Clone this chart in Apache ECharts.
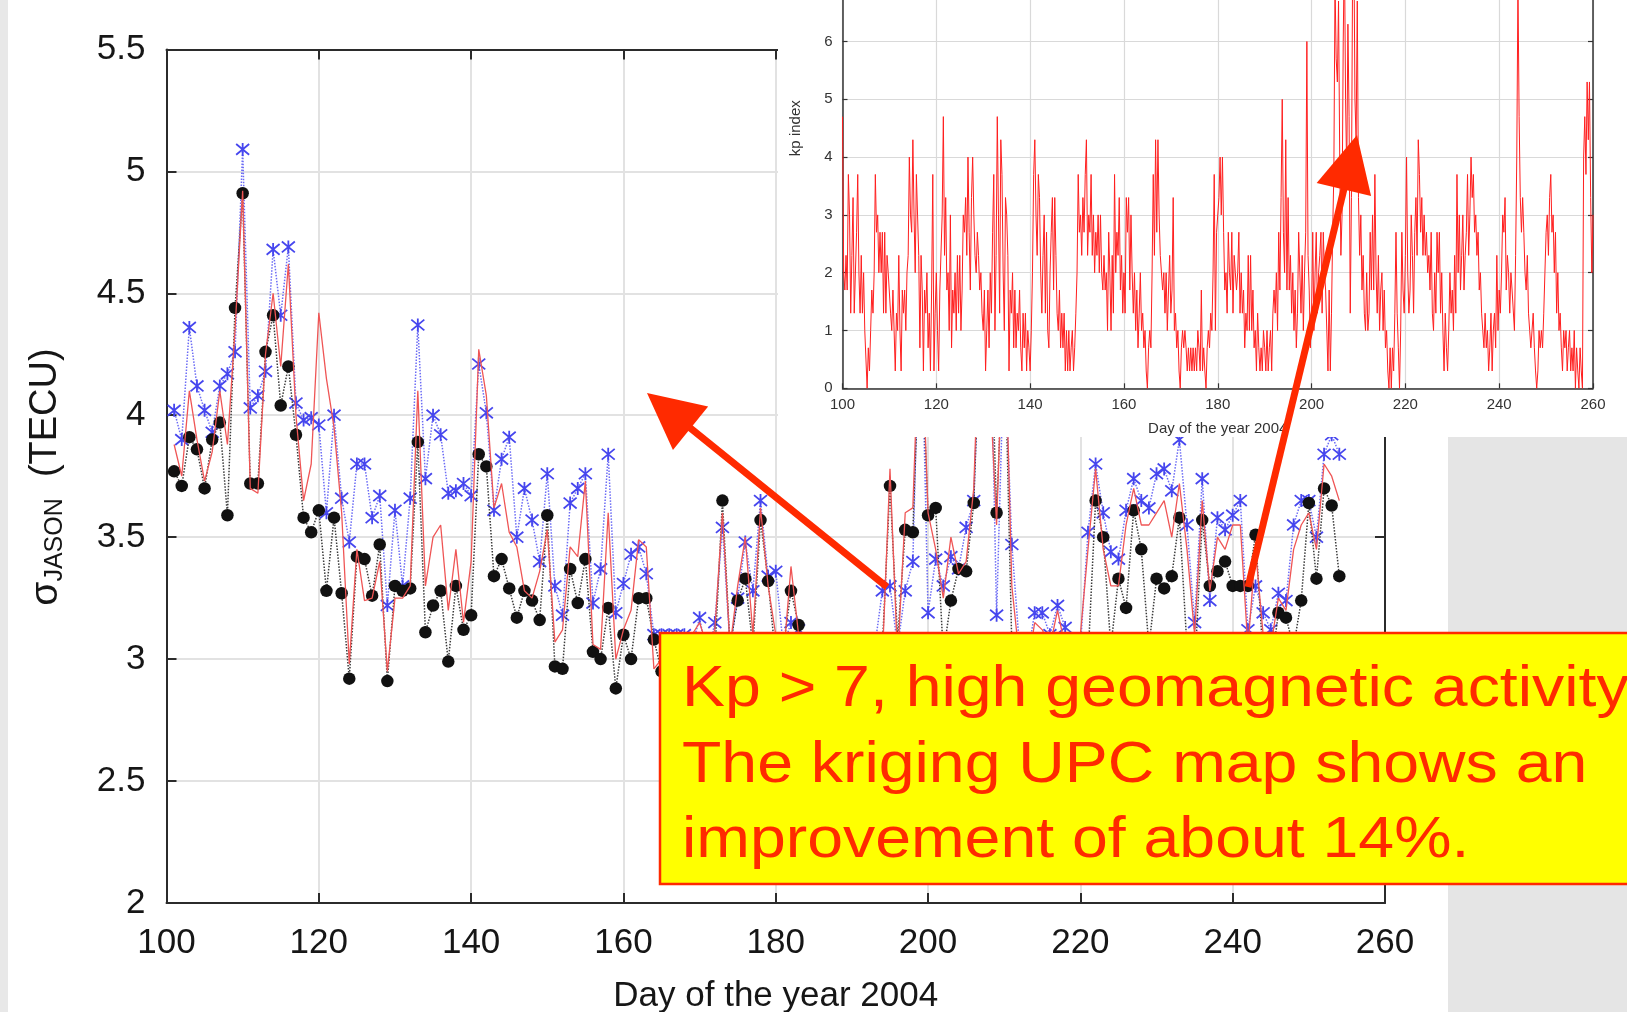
<!DOCTYPE html>
<html>
<head>
<meta charset="utf-8">
<title>σJASON and Kp index, 2004</title>
<script src="https://cdn.jsdelivr.net/npm/echarts@6/dist/echarts.min.js"></script>
<style>
  html, body { margin: 0; padding: 0; background: #ffffff; }
  #chart { width: 1627px; height: 1012px; }
</style>
</head>
<body>
<div id="chart"></div>
<script>
// ---- Daily sigma of the JASON TEC comparison (TECU), day 101 .. 254 ----
const firstDay = 101;

// black filled circles, dotted black line
const krigingSigma = [
  3.77, 3.71, 3.91, 3.86, 3.70, 3.90, 3.97, 3.59, 4.44, 4.91,
  3.72, 3.72, 4.26, 4.41, 4.04, 4.20, 3.92, 3.58, 3.52, 3.61,
  3.28, 3.58, 3.27, 2.92, 3.42, 3.41, 3.26, 3.47, 2.91, 3.30,
  3.28, 3.29, 3.89, 3.11, 3.22, 3.28, 2.99, 3.30, 3.12, 3.18,
  3.84, 3.79, 3.34, 3.41, 3.29, 3.17, 3.28, 3.24, 3.16, 3.59,
  2.97, 2.96, 3.37, 3.23, 3.41, 3.03, 3.00, 3.21, 2.88, 3.10,
  3.00, 3.25, 3.25, 3.08, 2.95, 2.90, 2.98, 3.05, 2.95, 3.00,
  2.90, 3.02, 3.65, 3.05, 3.24, 3.33, 3.05, 3.57, 3.32, 3.00,
  3.05, 3.28, 3.14, 2.95, 2.90, 3.00, 2.85, 2.95, 3.00, 2.90,
  2.95, 3.00, 2.90, 3.05, 3.71, 3.08, 3.53, 3.52, 4.40, 3.59,
  3.62, 3.02, 3.24, 3.37, 3.36, 3.64, 4.50, 4.60, 3.60, 4.40,
  3.05, 2.95, 2.90, 3.00, 2.95, 2.90, 3.00, 2.90, 3.00, 3.05,
  3.00, 3.65, 3.50, 3.05, 3.33, 3.21, 3.61, 3.45, 3.05, 3.33,
  3.29, 3.34, 3.58, 3.05, 2.95, 3.57, 3.30, 3.36, 3.40, 3.30,
  3.30, 3.30, 3.51, 3.00, 2.95, 3.19, 3.17, 3.05, 3.24, 3.64,
  3.33, 3.70, 3.63, 3.34
];

// blue asterisks, dotted blue line
const upcSigma = [
  4.02, 3.90, 4.36, 4.12, 4.02, 3.93, 4.12, 4.17, 4.26, 5.09,
  4.03, 4.08, 4.18, 4.68, 4.41, 4.69, 4.05, 3.98, 3.99, 3.96,
  3.60, 4.00, 3.66, 3.48, 3.80, 3.80, 3.58, 3.67, 3.22, 3.61,
  3.30, 3.66, 4.37, 3.74, 4.00, 3.92, 3.68, 3.69, 3.72, 3.67,
  4.21, 4.01, 3.61, 3.82, 3.91, 3.50, 3.70, 3.57, 3.40, 3.76,
  3.30, 3.18, 3.64, 3.70, 3.76, 3.23, 3.37, 3.84, 3.19, 3.31,
  3.43, 3.46, 3.35, 3.10, 3.10, 3.10, 3.10, 3.10, 3.05, 3.17,
  3.00, 3.15, 3.54, 3.05, 3.25, 3.48, 3.28, 3.65, 3.34, 3.36,
  3.05, 3.15, 3.12, 2.95, 3.00, 2.90, 3.00, 2.95, 3.05, 2.95,
  3.00, 2.95, 3.05, 3.28, 3.30, 3.05, 3.28, 3.40, 4.60, 3.19,
  3.41, 3.30, 3.42, 3.37, 3.54, 3.65, 4.50, 4.70, 3.18, 4.30,
  3.47, 3.05, 3.00, 3.19, 3.19, 3.10, 3.22, 3.13, 3.00, 3.05,
  3.52, 3.80, 3.60, 3.44, 3.41, 3.61, 3.74, 3.65, 3.62, 3.76,
  3.78, 3.69, 3.90, 3.55, 3.15, 3.74, 3.24, 3.58, 3.53, 3.59,
  3.65, 3.12, 3.30, 3.19, 3.12, 3.27, 3.24, 3.55, 3.65, 3.65,
  3.50, 3.84, 3.92, 3.84
];

// thin solid red line
const igsSigma = [
  3.88, 3.75, 4.10, 3.90, 3.73, 3.85, 4.10, 3.88, 4.35, 4.92,
  3.70, 3.68, 4.25, 4.50, 4.20, 4.62, 4.00, 3.65, 3.80, 4.42,
  4.15, 3.95, 3.60, 2.98, 3.45, 3.24, 3.25, 3.40, 2.95, 3.25,
  3.25, 3.30, 4.10, 3.30, 3.50, 3.55, 3.20, 3.45, 3.15, 3.40,
  4.27, 4.08, 3.62, 3.72, 3.52, 3.46, 3.28, 3.25, 3.36, 3.53,
  3.07, 3.12, 3.46, 3.42, 3.73, 3.06, 3.04, 3.60, 3.00, 3.12,
  3.20, 3.49, 3.46, 2.96, 3.00, 2.95, 3.05, 3.00, 3.10, 3.15,
  3.05, 3.12, 3.60, 3.05, 3.30, 3.50, 3.10, 3.62, 3.30, 3.10,
  3.00, 3.38, 3.10, 3.00, 2.95, 3.00, 2.90, 3.00, 2.95, 3.00,
  2.95, 3.00, 2.95, 3.00, 3.78, 3.00, 3.60, 3.62, 4.50, 3.60,
  3.45, 3.25, 3.50, 3.35, 3.40, 3.70, 4.60, 4.20, 3.55, 4.50,
  3.30, 3.00, 2.95, 3.15, 3.12, 3.05, 3.20, 3.05, 2.95, 3.10,
  3.45, 3.78, 3.45, 3.30, 3.30, 3.55, 3.70, 3.55, 3.55, 3.60,
  3.65, 3.50, 3.72, 3.45, 3.10, 3.65, 3.28, 3.50, 3.45, 3.55,
  3.55, 3.05, 3.45, 3.10, 3.05, 3.25, 3.20, 3.45, 3.55, 3.60,
  3.45, 3.80, 3.75, 3.65
];

// ---- Kp index, four samples per day from day 100 to day 260 ----
const kpFirstDay = 100;
const kpSamplesPerDay = 4;
const kpIndex = [
  4.7,2.0,1.7,2.3, 1.7,3.7,3.0,1.3, 2.3,3.3,1.3,1.3, 2.7,3.7,2.0,1.3, 2.3,1.3,2.0,1.0,   // 100-104
  1.0,0.0,0.7,0.3, 1.0,1.7,1.3,2.0, 3.7,2.7,3.0,2.0, 2.7,2.0,2.7,1.3, 2.7,1.3,2.3,2.0,   // 105-109
  2.0,1.3,1.0,1.7, 1.0,0.3,1.3,1.0, 2.3,1.0,0.3,1.7, 1.3,1.7,1.0,2.0, 2.3,4.0,3.0,2.7,   // 110-114
  4.3,3.0,2.0,3.7, 3.7,2.3,0.7,2.3, 1.7,0.3,1.7,1.3, 2.0,0.7,1.3,0.3, 1.7,3.7,0.3,1.3,   // 115-119
  2.0,1.0,0.3,1.7, 1.7,3.0,4.7,2.3, 3.3,1.7,2.0,1.0, 3.0,0.7,1.7,1.3, 2.0,1.0,2.3,1.3,   // 120-124
  2.3,1.0,1.7,3.0, 2.7,3.3,2.3,4.0, 2.7,1.7,3.3,4.0, 3.0,2.3,2.0,2.7, 2.3,1.7,2.0,1.3,   // 125-129
  1.0,1.7,0.3,1.0, 1.7,0.7,2.0,1.3, 2.7,3.7,1.0,2.3, 4.7,3.0,1.3,4.3, 3.7,2.0,1.0,3.3,   // 130-134
  3.0,2.3,0.3,1.7, 1.3,2.0,0.7,1.7, 0.7,1.3,1.0,1.7, 0.7,0.3,1.3,0.7, 1.3,0.3,1.0,0.7,   // 135-139
  0.3,1.0,2.0,3.7, 4.3,3.0,2.3,3.7, 3.3,2.0,1.3,2.3, 3.0,1.3,2.7,1.0, 0.7,2.0,2.7,3.3,   // 140-144
  1.7,3.3,2.3,1.3, 1.0,1.7,0.7,1.3, 0.7,1.3,0.3,1.0, 0.3,1.0,0.3,0.7, 1.0,0.3,0.7,1.3,   // 145-149
  2.0,3.7,2.7,3.0, 2.3,3.3,2.7,3.7, 4.3,2.3,3.0,2.7, 3.7,2.3,3.0,2.0, 2.7,2.3,3.0,2.0,   // 150-154
  3.0,2.0,1.7,2.3, 1.7,2.0,1.0,2.7, 2.0,1.0,2.3,1.3, 3.7,2.0,2.7,2.3, 3.3,1.7,2.3,1.3,   // 155-159
  2.0,1.3,3.3,2.7, 3.3,1.7,3.0,2.0, 1.3,2.0,1.0,1.7, 0.7,1.3,2.0,1.0, 1.3,0.7,1.0,0.3,   // 160-164
  0.0,0.7,1.0,0.7, 2.0,3.7,2.3,4.3, 2.7,4.3,3.0,2.3, 2.3,1.7,2.0,1.3, 2.0,1.0,1.7,2.3,   // 165-169
  1.3,1.7,3.3,1.0, 1.3,0.7,1.0,0.3, 0.0,0.7,1.0,0.7, 1.0,0.7,0.3,0.7, 0.3,0.7,0.3,0.7,   // 170-174
  0.3,0.7,0.3,1.0, 0.7,0.3,1.7,0.3, 0.7,0.3,0.0,0.7, 1.0,0.7,1.3,1.0, 2.0,3.7,1.0,2.7,   // 175-179
  2.7,3.3,4.0,3.0, 4.0,2.7,1.7,2.0, 1.3,2.7,2.0,1.7, 2.7,1.3,2.3,2.0, 1.7,2.0,2.7,1.3,   // 180-184
  2.0,1.3,1.7,0.7, 1.3,1.0,2.3,1.0, 2.3,1.0,1.7,0.7, 1.0,0.3,1.3,0.7, 0.3,0.7,0.3,1.0,   // 185-189
  0.7,0.3,1.0,0.3, 0.7,1.0,0.3,1.3, 1.7,1.3,2.0,1.0, 2.7,1.7,3.3,5.0, 2.7,2.0,4.3,1.7,   // 190-194
  3.3,1.7,2.3,1.3, 2.0,1.0,1.7,0.7, 1.3,2.7,2.0,1.3, 2.3,1.0,2.0,2.7, 6.0,2.3,1.7,0.7,   // 195-199
  1.3,2.7,1.0,2.0, 2.7,1.3,2.0,2.3, 2.7,1.3,2.7,2.0, 1.7,1.0,0.3,1.7, 0.3,1.3,2.7,3.7,   // 200-204
  7.0,5.7,5.3,6.7, 4.0,2.3,3.0,6.0, 7.7,5.0,3.7,6.3, 4.7,1.3,3.3,7.3, 8.0,5.0,4.3,6.7,   // 205-209
  3.3,2.3,3.0,1.7, 2.3,1.3,1.0,2.0, 1.0,1.3,2.7,1.7, 3.0,1.7,3.7,2.0, 1.3,2.3,1.0,1.7,   // 210-214
  2.0,1.0,1.7,0.7, 1.0,0.3,0.0,0.7, 0.0,0.7,0.3,1.3, 2.7,1.3,0.7,0.0, 1.0,2.7,1.7,1.3,   // 215-219
  2.3,4.0,2.0,1.3, 1.7,3.0,2.3,1.3, 2.7,3.3,2.3,4.3, 3.7,2.7,3.3,2.3, 3.0,2.3,2.7,2.0,   // 220-224
  2.3,1.7,2.7,1.3, 1.0,2.0,1.3,2.7, 2.0,2.7,1.3,2.0, 1.0,0.3,1.3,0.7, 0.3,1.0,2.0,1.3,   // 225-229
  1.7,1.0,2.3,1.3, 3.7,2.0,3.0,1.7, 2.3,3.0,1.7,2.3, 2.7,3.7,2.3,3.0, 4.0,3.3,3.7,2.7,   // 230-234
  3.0,2.3,2.7,1.7, 2.0,1.3,1.0,0.7, 1.3,0.7,1.0,0.3, 0.7,1.3,0.3,1.0, 1.3,0.7,2.3,1.0,   // 235-239
  1.7,1.3,2.0,3.0, 2.7,3.3,1.7,2.3, 2.0,1.3,2.0,1.7, 1.7,1.0,2.3,4.0, 7.0,4.7,3.3,2.7,   // 240-244
  3.3,2.7,2.0,1.7, 2.3,1.3,1.0,0.7, 1.0,1.3,0.7,0.3, 0.0,0.3,1.0,0.7, 1.0,0.7,1.3,2.0,   // 245-249
  2.7,3.0,2.3,3.3, 3.7,2.7,3.0,2.0, 2.7,1.3,2.0,1.0, 1.3,0.7,0.3,1.0, 0.7,1.0,0.3,0.7,   // 250-254
  1.0,0.3,0.7,0.3, 1.0,0.0,0.7,0.3, 0.0,0.7,0.3,0.0, 4.0,4.7,3.7,5.3, 4.3,5.3,3.3,2.0,   // 255-259
  3.0                                                                                       // 260
];

// ---- Annotation text ----
const noteLines = [
  'Kp > 7, high geomagnetic activity',
  'The kriging UPC map shows an',
  'improvement of about 14%.'
];

const FONT = "'Liberation Sans', Arial, Helvetica, sans-serif";
const RED = '#ff2a00';
const INK = '#161616';

const dailyPairs = arr => arr.map((v, i) => [firstDay + i, v]);
const kpPairs = kpIndex.map((v, i) => [kpFirstDay + i / kpSamplesPerDay, v]);

// Arrow = thick shaft + triangular head, given tail and tip in pixels
function arrow(tail, tip, headLen, headHalf) {
  const dx = tip[0] - tail[0], dy = tip[1] - tail[1];
  const len = Math.hypot(dx, dy);
  const ux = dx / len, uy = dy / len;
  const bx = tip[0] - ux * headLen, by = tip[1] - uy * headLen;
  const px = -uy * headHalf, py = ux * headHalf;
  return [
    { type: 'line', zlevel: 2, z: 20,
      shape: { x1: tail[0], y1: tail[1], x2: bx + ux * 4, y2: by + uy * 4 },
      style: { stroke: RED, lineWidth: 7, lineCap: 'butt' } },
    { type: 'polygon', zlevel: 2, z: 21,
      shape: { points: [[tip[0], tip[1]], [bx + px, by + py], [bx - px, by - py]] },
      style: { fill: RED } }
  ];
}

const mainAxisLine = { show: true, lineStyle: { color: '#2b2b2b', width: 2 } };
const mainTick = { show: true, inside: true, length: 10, lineStyle: { color: '#2b2b2b', width: 2 } };
const mainSplit = { show: true, lineStyle: { color: '#e2e2e2', width: 2 } };
const insetAxisLine = { show: true, lineStyle: { color: '#333', width: 1.5 } };
const insetTick = { show: true, inside: true, length: 5, lineStyle: { color: '#333', width: 1.2 } };
const insetSplit = { show: true, lineStyle: { color: '#d9d9d9', width: 1.2 } };

const asteriskPath = 'path://M0,0L10,10M10,0L0,10M5,-1L5,11';

const chart = echarts.init(document.getElementById('chart'), null, { renderer: 'canvas' });

const option = {
  animation: false,
  backgroundColor: '#ffffff',
  grid: [
    { left: 166.5, right: 242, top: 49.4, bottom: 109, outerBoundsMode: 'none', containLabel: false },
    { left: 842.5, right: 34, top: -131.9, bottom: 623.7, outerBoundsMode: 'none', containLabel: false }
  ],
  xAxis: [
    { // main, bottom
      gridIndex: 0, type: 'value', position: 'bottom', min: 100, max: 260, interval: 20,
      axisLine: mainAxisLine, axisTick: mainTick, splitLine: mainSplit,
      axisLabel: { fontSize: 35, color: INK, fontFamily: FONT, margin: 23 },
      name: 'Day of the year 2004', nameLocation: 'middle', nameGap: 76, nameMoveOverlap: false,
      nameTextStyle: { fontSize: 35, color: INK, fontFamily: FONT },
      zlevel: 0, z: 1
    },
    { // main, top frame
      gridIndex: 0, type: 'value', position: 'top', min: 100, max: 260, interval: 20,
      axisLine: mainAxisLine, axisTick: mainTick, splitLine: { show: false },
      axisLabel: { show: false }, zlevel: 0, z: 1
    },
    { // inset, bottom
      gridIndex: 1, type: 'value', position: 'bottom', min: 100, max: 260, interval: 20,
      axisLine: insetAxisLine, axisTick: insetTick, splitLine: insetSplit,
      axisLabel: { fontSize: 15, color: '#333', fontFamily: FONT, margin: 9 },
      name: 'Day of the year 2004', nameLocation: 'middle', nameGap: 33, nameMoveOverlap: false,
      nameTextStyle: { fontSize: 15, color: '#333', fontFamily: FONT },
      zlevel: 1, z: 5
    }
  ],
  yAxis: [
    { // main, left
      gridIndex: 0, type: 'value', position: 'left', min: 2, max: 5.5, interval: 0.5,
      axisLine: mainAxisLine, axisTick: mainTick, splitLine: mainSplit,
      axisLabel: { fontSize: 35, color: INK, fontFamily: FONT, margin: 21 },
      zlevel: 0, z: 1
    },
    { // main, right frame
      gridIndex: 0, type: 'value', position: 'right', min: 2, max: 5.5, interval: 0.5,
      axisLine: mainAxisLine, axisTick: mainTick, splitLine: { show: false },
      axisLabel: { show: false }, zlevel: 0, z: 1
    },
    { // inset, left
      gridIndex: 1, type: 'value', position: 'left', min: 0, max: 9, interval: 1,
      axisLine: insetAxisLine, axisTick: insetTick, splitLine: insetSplit,
      axisLabel: { fontSize: 15, color: '#333', fontFamily: FONT, margin: 10,
                   formatter: v => (v > 6 ? '' : String(v)) },
      name: 'kp index', nameLocation: 'middle', nameGap: 39, nameRotate: 90, nameMoveOverlap: false,
      nameTextStyle: { fontSize: 15, color: '#333', fontFamily: FONT },
      zlevel: 1, z: 5
    },
    { // inset, right frame
      gridIndex: 1, type: 'value', position: 'right', min: 0, max: 9, interval: 1,
      axisLine: insetAxisLine, axisTick: insetTick, splitLine: { show: false },
      axisLabel: { show: false }, zlevel: 1, z: 5
    }
  ],
  series: [
    {
      name: 'UPC', type: 'line', xAxisIndex: 0, yAxisIndex: 0,
      data: dailyPairs(upcSigma),
      symbol: asteriskPath, symbolSize: 13, showSymbol: true,
      itemStyle: { color: '#4646ee', borderColor: '#4646ee', borderWidth: 1.8 },
      lineStyle: { color: '#6b6bf5', width: 1.5, type: 'dotted' },
      zlevel: 0, z: 2
    },
    {
      name: 'UPC kriging', type: 'line', xAxisIndex: 0, yAxisIndex: 0,
      data: dailyPairs(krigingSigma),
      symbol: 'circle', symbolSize: 12.5, showSymbol: true,
      itemStyle: { color: '#111111' },
      lineStyle: { color: '#3a3a3a', width: 1.5, type: 'dotted' },
      zlevel: 0, z: 3
    },
    {
      name: 'IGS', type: 'line', xAxisIndex: 0, yAxisIndex: 0,
      data: dailyPairs(igsSigma),
      symbol: 'none',
      lineStyle: { color: '#ef5555', width: 1.3 },
      zlevel: 0, z: 4
    },
    {
      name: 'Kp', type: 'line', xAxisIndex: 2, yAxisIndex: 2,
      data: kpPairs, symbol: 'none',
      lineStyle: { color: '#ff1f1f', width: 1 },
      zlevel: 1, z: 6
    }
  ],
  graphic: [
    // page edge strip and lower-right panel
    { type: 'rect', zlevel: 0, z: -10, shape: { x: 0, y: 0, width: 8, height: 1012 }, style: { fill: '#e8e8e8' } },
    { type: 'rect', zlevel: 1, z: 0, shape: { x: 1448, y: 437, width: 179, height: 575 }, style: { fill: '#e5e5e5' } },
    // inset panel background
    { type: 'rect', zlevel: 1, z: 0, shape: { x: 778, y: 0, width: 849, height: 437 }, style: { fill: '#ffffff' } },
    // main y-axis title: σ_JASON (TECU)
    {
      type: 'text', zlevel: 0, z: 5, x: 46, y: 477, rotation: Math.PI / 2,
      style: {
        text: '{s|σ}{sub|JASON}{t|  (TECU)}',
        align: 'center', verticalAlign: 'middle',
        rich: {
          s: { fontSize: 39, fontFamily: FONT, fill: INK, lineHeight: 44 },
          sub: { fontSize: 25, fontFamily: FONT, fill: INK, lineHeight: 26, verticalAlign: 'bottom' },
          t: { fontSize: 38, fontFamily: FONT, fill: INK, lineHeight: 44 }
        }
      }
    },
    // yellow note box
    { type: 'rect', zlevel: 2, z: 10, shape: { x: 660, y: 633, width: 1010, height: 251 },
      style: { fill: '#ffff00', stroke: RED, lineWidth: 2.5 } },
    ...noteLines.map((line, i) => ({
      type: 'text', zlevel: 2, z: 11, x: 682, y: 690 + i * 75.5, scaleX: 1.11,
      style: { text: line, font: `58px ${FONT}`, fill: RED, align: 'left', verticalAlign: 'middle' }
    })),
    // arrows
    ...arrow([887, 587], [647, 393], 56, 28),
    ...arrow([1248, 587], [1357, 135], 56, 28)
  ]
};

chart.setOption(option);
</script>
</body>
</html>
